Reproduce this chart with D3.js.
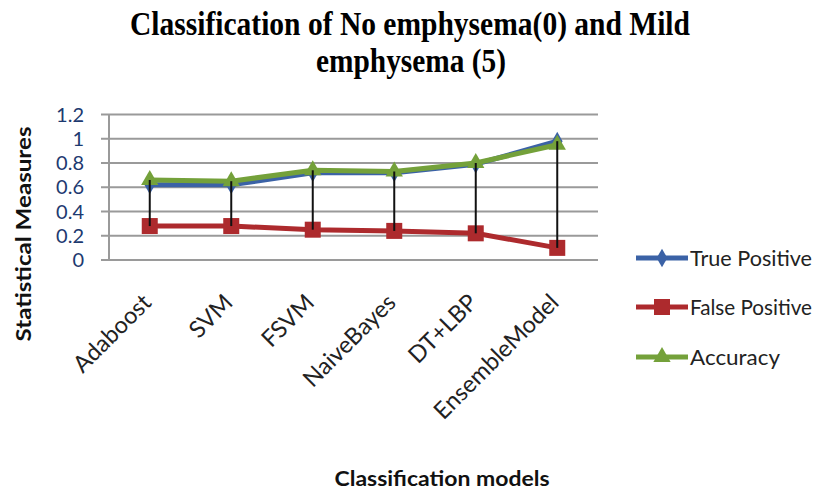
<!DOCTYPE html>
<html><head><meta charset="utf-8">
<script src="https://cdn.jsdelivr.net/npm/d3@7"></script>
<style>body{margin:0;background:#fff}</style>
</head><body>
<svg id="c" width="819" height="491"></svg>
<script>
const categories = ["Adaboost","SVM","FSVM","NaiveBayes","DT+LBP","EnsembleModel"];
const truePositive = [0.62,0.62,0.72,0.72,0.79,0.98];
const falsePositive = [0.28,0.28,0.25,0.24,0.22,0.10];
const accuracy = [0.66,0.65,0.74,0.73,0.80,0.95];
const yTicks = [0,0.2,0.4,0.6,0.8,1,1.2];
const seriesNames = ["True Positive","False Positive","Accuracy"];

(function(){
const svg = d3.select("#c");
const pLeft = 109, pRight = 598, pTop = 114.5, pBottom = 260;
const x = d3.scaleBand().domain(categories).range([pLeft,pRight]);
const y = d3.scaleLinear().domain([0,1.2]).range([pBottom,pTop]);
const cx = d => x(d) + x.bandwidth()/2;

// title
const title = svg.append("g").attr("font-family","Liberation Serif").attr("font-weight","bold").attr("font-size",33).attr("fill","#000").attr("text-anchor","middle");
title.append("text").attr("x",410).attr("y",35).attr("textLength",560).attr("lengthAdjust","spacingAndGlyphs").text("Classification of No emphysema(0)  and Mild");
title.append("text").attr("x",411).attr("y",72).attr("textLength",190).attr("lengthAdjust","spacingAndGlyphs").text("emphysema (5)");

// gridlines
svg.append("g").selectAll("line").data(yTicks).join("line")
  .attr("x1",pLeft-8).attr("x2",pRight).attr("y1",d=>y(d)).attr("y2",d=>y(d))
  .attr("stroke","#9a9a9a").attr("stroke-width",2);
svg.append("line").attr("x1",pLeft).attr("x2",pLeft).attr("y1",pTop).attr("y2",pBottom).attr("stroke","#9a9a9a").attr("stroke-width",2);

// y tick labels
svg.append("g").selectAll("text").data(yTicks).join("text")
  .attr("x",84).attr("y",d=>y(d)+7).attr("text-anchor","end")
  .attr("font-family","Lato").attr("font-size",20).attr("fill","#1d3a70")
  .text(d=>d3.format("")(d));

// y title
svg.append("text").attr("transform","translate(31,234) rotate(-90)").attr("text-anchor","middle")
  .attr("font-family","Lato").attr("font-weight","bold").attr("font-size",20).attr("fill","#111")
  .attr("textLength",215).attr("lengthAdjust","spacingAndGlyphs")
  .text("Statistical Measures");

// x labels
svg.append("g").selectAll("text").data(categories).join("text")
  .attr("transform",d=>`translate(${cx(d)+3},${304}) rotate(-45)`).attr("text-anchor","end")
  .attr("font-family","Lato").attr("font-size",23.5).attr("fill","#222")
  .text(d=>d);

// x title
svg.append("text").attr("x",442).attr("y",486).attr("text-anchor","middle")
  .attr("font-family","Lato").attr("font-weight","bold").attr("font-size",20).attr("fill","#111")
  .attr("textLength",215).attr("lengthAdjust","spacingAndGlyphs")
  .text("Classification models");

const colors = ["#3b62a6","#ad2a2d","#74a13a"];
const data = [truePositive,falsePositive,accuracy];
const line = d3.line().x((v,i)=>cx(categories[i])).y(v=>y(v));

const markers = [
  (g,c)=>g.append("path").attr("d",d3.symbol(d3.symbolDiamond,100)()).attr("fill",c),
  (g,c)=>g.append("rect").attr("x",-8).attr("y",-8).attr("width",16).attr("height",16).attr("fill",c),
  (g,c)=>g.append("path").attr("d",d3.symbol(d3.symbolTriangle,130)()).attr("fill",c)
];

data.forEach((vals,s)=>{
  svg.append("path").datum(vals).attr("d",line).attr("fill","none").attr("stroke",colors[s]).attr("stroke-width",5).attr("stroke-linejoin","round");
  vals.forEach((v,i)=>{
    const g = svg.append("g").attr("transform",`translate(${cx(categories[i])},${y(v)})`);
    markers[s](g,colors[s]);
  });
});

// high-low lines
svg.append("g").selectAll("line").data(categories).join("line")
  .attr("x1",d=>cx(d)).attr("x2",d=>cx(d))
  .attr("y1",(d,i)=>y(Math.max(truePositive[i],falsePositive[i],accuracy[i])))
  .attr("y2",(d,i)=>y(Math.min(truePositive[i],falsePositive[i],accuracy[i])))
  .attr("stroke","#111").attr("stroke-width",2);

// legend
const ly = [258,307,357];
const lw = [122,122,90];
seriesNames.forEach((n,s)=>{
  const g = svg.append("g").attr("transform",`translate(636,${ly[s]})`);
  g.append("line").attr("x1",0).attr("x2",52).attr("stroke",colors[s]).attr("stroke-width",5);
  const m = svg.append("g").attr("transform",`translate(662,${ly[s]})`);
  markers[s](m,colors[s]);
  g.append("text").attr("x",54).attr("y",8).attr("font-family","Lato").attr("font-size",22).attr("fill","#222")
    .attr("textLength",lw[s]).attr("lengthAdjust","spacingAndGlyphs").text(n);
});
})();
</script>
</body></html>
